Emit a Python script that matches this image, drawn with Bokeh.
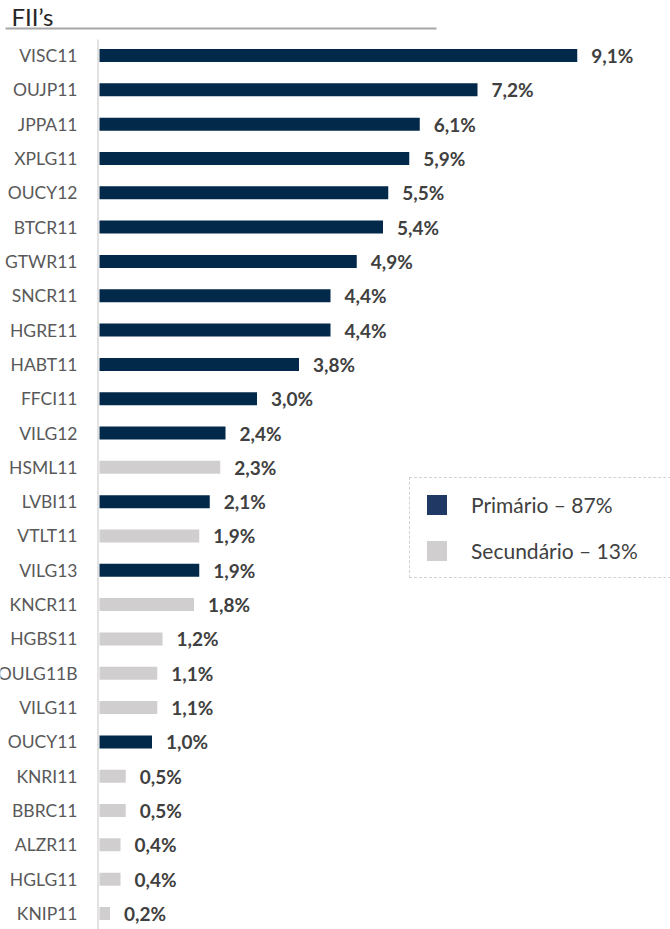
from bokeh.plotting import figure
from bokeh.models import Range1d, ColumnDataSource, Legend, LegendItem
from bokeh.core.properties import value
from bokeh.embed import file_html
from bokeh.resources import INLINE

# ---- data ----
categories = ["VISC11", "OUJP11", "JPPA11", "XPLG11", "OUCY12", "BTCR11", "GTWR11",
              "SNCR11", "HGRE11", "HABT11", "FFCI11", "VILG12", "HSML11", "LVBI11",
              "VTLT11", "VILG13", "KNCR11", "HGBS11", "OULG11B", "VILG11", "OUCY11",
              "KNRI11", "BBRC11", "ALZR11", "HGLG11", "KNIP11"]
values = [9.1, 7.2, 6.1, 5.9, 5.5, 5.4, 4.9, 4.4, 4.4, 3.8, 3.0, 2.4, 2.3, 2.1,
          1.9, 1.9, 1.8, 1.2, 1.1, 1.1, 1.0, 0.5, 0.5, 0.4, 0.4, 0.2]
market = ["P", "P", "P", "P", "P", "P", "P", "P", "P", "P", "P", "P", "S", "P",
          "S", "P", "S", "S", "S", "S", "P", "S", "S", "S", "S", "S"]
value_labels = ["9,1%", "7,2%", "6,1%", "5,9%", "5,5%", "5,4%", "4,9%", "4,4%", "4,4%",
                "3,8%", "3,0%", "2,4%", "2,3%", "2,1%", "1,9%", "1,9%", "1,8%", "1,2%",
                "1,1%", "1,1%", "1,0%", "0,5%", "0,5%", "0,4%", "0,4%", "0,2%"]
legend_labels = ["Primário – 87%", "Secundário – 13%"]
title_text = "FII’s"

# ---- styles ----
BAR_COLORS = {"P": "#03294a", "S": "#d0cece"}
LEGEND_COLORS = ["#203864", "#d0cece"]

W, H = 670, 929
K = 52.5      # pixels per percentage point
ROW = 34.32   # pixels per row


def px(page_x):
    return (page_x - 99) / K


def py(page_y):
    return (page_y - 55) / ROW


rows = list(range(len(categories)))
src = ColumnDataSource(dict(
    row=rows, value=values, cat=categories, lab=value_labels,
    color=[BAR_COLORS[m] for m in market],
    lab_x=[v + 14 / K for v in values],
))

p = figure(width=W, height=H, output_backend="svg", toolbar_location=None,
           x_range=Range1d(px(0), px(W)), y_range=Range1d(py(H), py(0)),
           x_axis_location=None, y_axis_location=None,
           min_border=0, outline_line_color=None)
p.grid.visible = False
p.background_fill_color = "white"

# title + underline
p.text(x=[px(11)], y=[py(16)], text=[title_text], text_baseline="middle",
       text_font=value("Lato"), text_font_size="24px", text_color="#262626")
p.segment(x0=[px(5)], y0=[py(28)], x1=[px(436)], y1=[py(28)],
          line_color="#a6a6a6", line_width=2)

# vertical axis line
p.segment(x0=[px(97.5)], y0=[py(39)], x1=[px(97.5)], y1=[py(935)],
          line_color="#d9d9d9", line_width=1.5)

# bars
p.hbar(y="row", left=0, right="value", height=13 / ROW, fill_color="color",
       line_color=None, source=src)

# category labels
p.text(x=px(77), y="row", text="cat", source=src, text_align="right",
       text_baseline="middle", text_font=value("Lato"), text_font_size="17.5px",
       text_color="#595959")

# value labels
p.text(x="lab_x", y="row", text="lab", source=src, text_align="left",
       text_baseline="middle", text_font=value("Lato"), text_font_size="19px",
       text_font_style="bold", text_color="#404040")

# legend swatches (off-screen dummy renderers)
r1 = p.hbar(y=[-100], right=[0], height=1, fill_color=LEGEND_COLORS[0], line_color=None)
r2 = p.hbar(y=[-100], right=[0], height=1, fill_color=LEGEND_COLORS[1], line_color=None)
legend = Legend(items=[LegendItem(label=legend_labels[0], renderers=[r1]),
                       LegendItem(label=legend_labels[1], renderers=[r2])],
                location=(409, 351), orientation="vertical",
                border_line_color="#a6a6a6", border_line_dash="4 3",
                border_line_width=1, background_fill_alpha=0,
                label_text_font="Lato", label_text_font_size="21px",
                label_text_color="#404040", glyph_width=25, glyph_height=25,
                label_standoff=22, spacing=21, padding=14, margin=0,
                label_height=25, label_width=230)
p.add_layout(legend)

open("out.html", "w").write(file_html(p, INLINE))
